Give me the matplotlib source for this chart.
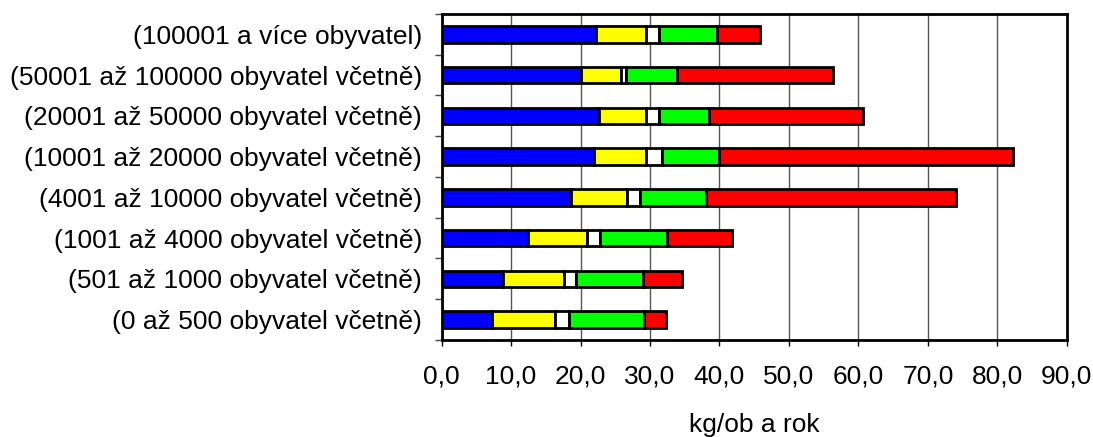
import matplotlib
matplotlib.use('Agg')
from matplotlib import pyplot as plt
import numpy as np

plt.rcParams['font.family'] = ['Liberation Sans', 'DejaVu Sans']

categories = ['(0 až 500 obyvatel včetně)',
              '(501 až 1000 obyvatel včetně)',
              '(1001 až 4000 obyvatel včetně)',
              '(4001 až 10000 obyvatel včetně)',
              '(10001 až 20000 obyvatel včetně)',
              '(20001 až 50000 obyvatel včetně)',
              '(50001 až 100000 obyvatel včetně)',
              '(100001 a více obyvatel)']

# segment values (kg/ob a rok), bottom row first
blue = [7.2, 8.9, 12.4, 18.6, 21.9, 22.6, 20.0, 22.2]
yellow = [9.2, 8.7, 8.5, 8.1, 7.6, 6.9, 5.9, 7.3]
white = [1.9, 1.8, 1.9, 1.8, 2.2, 1.8, 0.6, 1.8]
green = [10.8, 9.6, 9.6, 9.5, 8.2, 7.2, 7.4, 8.3]
red = [3.2, 5.6, 9.4, 36.1, 42.4, 22.2, 22.4, 6.2]

series = [blue, yellow, white, green, red]
colors = ['#0000FF', '#FFFF00', '#FFFFFF', '#00FF00', '#FF0000']

fig = plt.figure(figsize=(10.93, 4.37), dpi=100)
ax = fig.add_axes([0.404, 0.222, 0.572, 0.746])

y = np.arange(len(categories))
left = np.zeros(len(categories))
for vals, c in zip(series, colors):
    ax.barh(y, vals, left=left, height=0.4, color=c, edgecolor='black',
            linewidth=2, zorder=3)
    left += np.array(vals)

ax.set_xlim(0, 90)
ax.set_ylim(-0.5, len(categories) - 0.5)
ax.set_xticks(np.arange(0, 91, 10))
ax.set_xticklabels([f'{v:.1f}'.replace('.', ',') for v in np.arange(0, 91, 10)],
                   fontsize=19)
ax.tick_params(axis='x', length=4, width=1, pad=14)

ax.set_yticks(y)
ax.set_yticklabels(categories, fontsize=19)
ax.set_yticks(np.arange(-0.5, len(categories), 1), minor=True)
ax.tick_params(axis='y', which='major', length=0, pad=14)
ax.tick_params(axis='y', which='minor', length=5, width=1, color='#444444')

ax.grid(axis='x', color='#555555', linewidth=1, zorder=0)
for s in ax.spines.values():
    s.set_linewidth(2)

ax.set_xlabel('kg/ob a rok', fontsize=19, labelpad=17)

plt.savefig('out.png', dpi=100)
